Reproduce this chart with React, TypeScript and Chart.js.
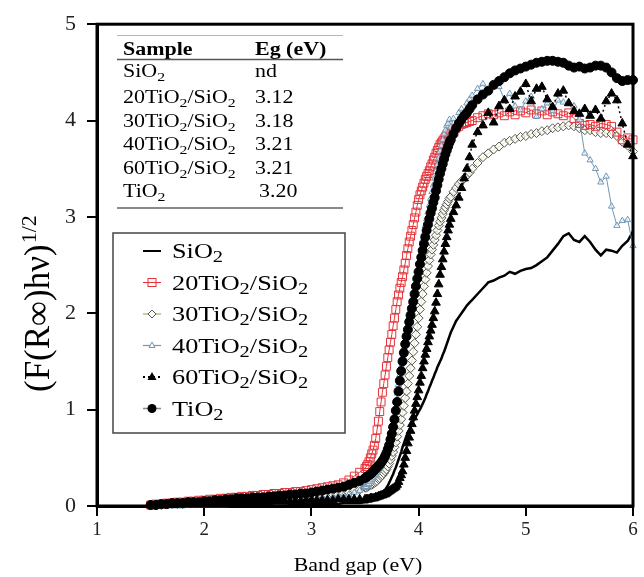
import React, { useEffect, useRef } from 'react';
import { Chart, registerables } from 'chart.js';

Chart.register(...registerables);

const SERIF = '"Liberation Serif", "Times New Roman", serif';

// Photon energy (eV)
const energy = [
  1.50, 1.55, 1.60, 1.65, 1.70, 1.75, 1.80, 1.85, 1.90, 1.95, 2.00, 2.05, 2.10, 2.15, 2.20, 2.25, 2.30, 2.35, 2.40, 2.45,
  2.50, 2.55, 2.60, 2.65, 2.70, 2.75, 2.80, 2.85, 2.90, 2.95, 3.00, 3.05, 3.10, 3.15, 3.20, 3.25, 3.30, 3.35, 3.40, 3.45,
  3.5, 3.5125, 3.525, 3.5375, 3.55, 3.5625, 3.575, 3.5875,
  3.6, 3.6125, 3.625, 3.6375, 3.65, 3.6625, 3.675, 3.6875,
  3.7, 3.7125, 3.725, 3.7375, 3.75, 3.7625, 3.775, 3.7875,
  3.8, 3.8125, 3.825, 3.8375, 3.85, 3.8625, 3.875, 3.8875,
  3.9, 3.9125, 3.925, 3.9375, 3.95, 3.9625, 3.975, 3.9875,
  4.0, 4.0125, 4.025, 4.0375, 4.05, 4.0625, 4.075, 4.0875,
  4.1, 4.1125, 4.125, 4.1375, 4.15, 4.1625, 4.175, 4.1875,
  4.2, 4.2125, 4.225, 4.2375, 4.25, 4.2625, 4.275, 4.2875,
  4.3, 4.325, 4.35, 4.375, 4.4, 4.425, 4.45, 4.475,
  4.5, 4.55, 4.6, 4.65, 4.7, 4.75, 4.8, 4.85, 4.9, 4.95, 5.0, 5.05, 5.1, 5.15, 5.2, 5.25, 5.3, 5.35, 5.4, 5.45,
  5.5, 5.55, 5.6, 5.65, 5.7, 5.75, 5.8, 5.85, 5.9, 5.95, 6.0,
];

const siO2 = [
  0.00, 0.00, 0.00, 0.00, 0.00, 0.00, 0.00, 0.00, 0.00, 0.00, 0.00, 0.00, 0.00, 0.00, 0.00, 0.00, 0.01, 0.01, 0.01, 0.01,
  0.01, 0.01, 0.01, 0.01, 0.01, 0.01, 0.01, 0.01, 0.02, 0.02, 0.02, 0.02, 0.02, 0.02, 0.02, 0.02, 0.03, 0.03, 0.03, 0.03,
  0.04, 0.04, 0.04, 0.05, 0.05, 0.05, 0.06, 0.06,
  0.07, 0.08, 0.09, 0.10, 0.12, 0.13, 0.15, 0.17,
  0.19, 0.21, 0.24, 0.27, 0.30, 0.33, 0.37, 0.40,
  0.44, 0.48, 0.52, 0.56, 0.61, 0.65, 0.69, 0.73,
  0.76, 0.79, 0.82, 0.85, 0.88, 0.90, 0.93, 0.95,
  0.98, 1.00, 1.03, 1.06, 1.09, 1.12, 1.16, 1.19,
  1.23, 1.26, 1.30, 1.33, 1.37, 1.40, 1.44, 1.47,
  1.50, 1.53, 1.57, 1.60, 1.64, 1.68, 1.72, 1.76,
  1.80, 1.86, 1.92, 1.96, 2.00, 2.04, 2.08, 2.11,
  2.14, 2.20, 2.26, 2.32, 2.34, 2.37, 2.39, 2.43, 2.41, 2.44, 2.46, 2.47, 2.50, 2.54, 2.58, 2.65, 2.72, 2.80, 2.83, 2.76,
  2.74, 2.80, 2.74, 2.66, 2.60, 2.66, 2.65, 2.63, 2.70, 2.75, 2.85,
];

const ti20 = [
  0.01, 0.02, 0.02, 0.03, 0.03, 0.04, 0.04, 0.05, 0.05, 0.06, 0.06, 0.07, 0.07, 0.08, 0.08, 0.09, 0.09, 0.10, 0.10, 0.11,
  0.11, 0.12, 0.12, 0.13, 0.13, 0.14, 0.14, 0.15, 0.15, 0.16, 0.17, 0.18, 0.19, 0.20, 0.21, 0.22, 0.24, 0.27, 0.31, 0.35,
  0.39, 0.41, 0.43, 0.46, 0.50, 0.54, 0.58, 0.63,
  0.70, 0.79, 0.88, 0.98, 1.08, 1.18, 1.27, 1.36,
  1.45, 1.54, 1.62, 1.70, 1.78, 1.87, 1.95, 2.04,
  2.12, 2.19, 2.26, 2.32, 2.38, 2.45, 2.52, 2.60,
  2.67, 2.74, 2.80, 2.86, 2.92, 2.99, 3.05, 3.12,
  3.18, 3.23, 3.27, 3.31, 3.35, 3.39, 3.42, 3.45,
  3.48, 3.52, 3.55, 3.59, 3.62, 3.66, 3.69, 3.72,
  3.75, 3.77, 3.79, 3.81, 3.83, 3.85, 3.86, 3.87,
  3.88, 3.90, 3.92, 3.94, 3.96, 3.97, 3.98, 3.99,
  4.00, 4.03, 4.05, 4.07, 4.06, 4.08, 4.05, 4.09, 4.06, 4.10, 4.08, 4.11, 4.07, 4.10, 4.06, 4.09, 4.07, 4.05, 4.08, 4.02,
  3.97, 3.95, 3.96, 3.94, 3.97, 3.96, 3.94, 3.88, 3.80, 3.82, 3.80,
];

const ti30 = [
  0.01, 0.01, 0.01, 0.02, 0.02, 0.02, 0.02, 0.03, 0.03, 0.03, 0.03, 0.04, 0.04, 0.04, 0.04, 0.05, 0.05, 0.05, 0.05, 0.06,
  0.06, 0.06, 0.07, 0.07, 0.07, 0.08, 0.08, 0.08, 0.09, 0.09, 0.10, 0.10, 0.11, 0.11, 0.12, 0.12, 0.13, 0.14, 0.16, 0.17,
  0.19, 0.19, 0.20, 0.21, 0.22, 0.22, 0.23, 0.24,
  0.25, 0.26, 0.28, 0.29, 0.31, 0.32, 0.34, 0.36,
  0.38, 0.41, 0.44, 0.48, 0.52, 0.56, 0.61, 0.66,
  0.72, 0.78, 0.84, 0.90, 0.97, 1.04, 1.12, 1.19,
  1.27, 1.35, 1.43, 1.51, 1.60, 1.69, 1.78, 1.86,
  1.95, 2.04, 2.12, 2.20, 2.28, 2.35, 2.42, 2.49,
  2.55, 2.61, 2.66, 2.71, 2.76, 2.81, 2.86, 2.91,
  2.95, 2.99, 3.03, 3.07, 3.10, 3.13, 3.16, 3.19,
  3.21, 3.26, 3.30, 3.34, 3.37, 3.40, 3.43, 3.46,
  3.50, 3.56, 3.62, 3.66, 3.70, 3.73, 3.77, 3.79, 3.81, 3.83, 3.84, 3.86, 3.87, 3.89, 3.90, 3.92, 3.93, 3.94, 3.95, 3.94,
  3.92, 3.90, 3.90, 3.88, 3.87, 3.87, 3.86, 3.84, 3.78, 3.74, 3.68,
];

const ti40 = [
  0.00, 0.00, 0.00, 0.00, 0.00, 0.00, 0.00, 0.01, 0.01, 0.01, 0.01, 0.01, 0.01, 0.01, 0.01, 0.02, 0.02, 0.02, 0.02, 0.03,
  0.03, 0.03, 0.03, 0.04, 0.04, 0.04, 0.05, 0.05, 0.06, 0.06, 0.07, 0.07, 0.08, 0.08, 0.09, 0.10, 0.11, 0.12, 0.14, 0.16,
  0.19, 0.20, 0.22, 0.23, 0.25, 0.27, 0.29, 0.31,
  0.33, 0.35, 0.38, 0.40, 0.43, 0.46, 0.50, 0.54,
  0.58, 0.63, 0.69, 0.76, 0.83, 0.91, 0.99, 1.08,
  1.17, 1.26, 1.36, 1.45, 1.55, 1.64, 1.72, 1.80,
  1.88, 1.96, 2.04, 2.12, 2.20, 2.28, 2.36, 2.44,
  2.52, 2.60, 2.68, 2.76, 2.83, 2.91, 2.98, 3.05,
  3.12, 3.19, 3.26, 3.33, 3.40, 3.47, 3.54, 3.61,
  3.68, 3.74, 3.80, 3.86, 3.90, 3.95, 3.97, 4.01,
  3.93, 4.02, 3.96, 4.08, 4.12, 4.05, 4.18, 4.22,
  4.26, 4.33, 4.38, 4.30, 4.36, 4.35, 4.22, 4.28, 4.15, 4.11, 4.20, 4.25, 4.04, 4.12, 4.18, 4.10, 4.21, 4.19, 4.18, 4.15,
  4.01, 3.66, 3.59, 3.50, 3.36, 3.42, 3.11, 2.91, 2.96, 2.97, 2.70,
];

const ti60 = [
  0.01, 0.01, 0.01, 0.01, 0.01, 0.02, 0.02, 0.02, 0.02, 0.02, 0.02, 0.03, 0.03, 0.03, 0.03, 0.03, 0.03, 0.04, 0.04, 0.04,
  0.04, 0.04, 0.04, 0.05, 0.05, 0.05, 0.05, 0.05, 0.05, 0.06, 0.06, 0.06, 0.06, 0.06, 0.06, 0.07, 0.07, 0.07, 0.07, 0.07,
  0.07, 0.07, 0.07, 0.07, 0.08, 0.08, 0.08, 0.08,
  0.09, 0.09, 0.10, 0.10, 0.11, 0.11, 0.12, 0.12,
  0.13, 0.14, 0.15, 0.16, 0.17, 0.18, 0.19, 0.20,
  0.22, 0.25, 0.29, 0.32, 0.36, 0.43, 0.50, 0.57,
  0.65, 0.71, 0.78, 0.85, 0.92, 0.99, 1.06, 1.13,
  1.20, 1.28, 1.35, 1.43, 1.50, 1.57, 1.63, 1.70,
  1.76, 1.82, 1.88, 1.95, 2.02, 2.11, 2.20, 2.30,
  2.40, 2.48, 2.56, 2.64, 2.72, 2.79, 2.86, 2.92,
  2.98, 3.05, 3.12, 3.20, 3.30, 3.40, 3.50, 3.62,
  3.75, 3.88, 3.95, 4.08, 3.98, 4.15, 4.21, 4.12, 4.25, 4.30, 4.38, 4.20, 4.33, 4.35, 4.22, 4.14, 4.28, 4.31, 4.18, 4.10,
  4.07, 4.12, 4.05, 4.11, 4.02, 4.20, 4.28, 4.21, 3.97, 3.75, 3.63,
];

const tiO2 = [
  0.01, 0.01, 0.02, 0.02, 0.03, 0.03, 0.03, 0.04, 0.04, 0.04, 0.05, 0.05, 0.06, 0.06, 0.07, 0.07, 0.08, 0.08, 0.08, 0.09,
  0.09, 0.09, 0.10, 0.10, 0.11, 0.11, 0.12, 0.12, 0.13, 0.13, 0.14, 0.15, 0.16, 0.17, 0.18, 0.19, 0.20, 0.22, 0.24, 0.26,
  0.29, 0.30, 0.31, 0.32, 0.33, 0.34, 0.36, 0.37,
  0.39, 0.40, 0.42, 0.43, 0.45, 0.47, 0.49, 0.52,
  0.55, 0.59, 0.63, 0.69, 0.75, 0.82, 0.90, 0.99,
  1.08, 1.19, 1.30, 1.40, 1.50, 1.59, 1.68, 1.76,
  1.83, 1.91, 1.98, 2.05, 2.12, 2.20, 2.28, 2.36,
  2.43, 2.51, 2.58, 2.65, 2.72, 2.79, 2.86, 2.92,
  2.98, 3.04, 3.09, 3.15, 3.20, 3.27, 3.33, 3.39,
  3.45, 3.50, 3.55, 3.60, 3.65, 3.69, 3.73, 3.77,
  3.80, 3.86, 3.92, 3.97, 4.01, 4.05, 4.08, 4.12,
  4.16, 4.22, 4.27, 4.31, 4.37, 4.41, 4.45, 4.49, 4.52, 4.54, 4.56, 4.58, 4.60, 4.61, 4.62, 4.62, 4.61, 4.60, 4.57, 4.55,
  4.56, 4.54, 4.55, 4.57, 4.57, 4.55, 4.50, 4.44, 4.41, 4.42, 4.42,
];

const sampleNames = ['SiO2', '20TiO2/SiO2', '30TiO2/SiO2', '40TiO2/SiO2', '60TiO2/SiO2', 'TiO2'];
const bandGaps = ['nd', '3.12', '3.18', '3.21', '3.21', '3.20'];
const tableHeader = ['Sample', 'Eg (eV)'];
const xTitle = 'Band gap (eV)';
const yTitle = '(F(R\u221E)h\u03BD)';
const yTitleSup = '1/2';

const RED = '#e5343a';
const OLIVE = '#a9a862';
const BLUE = '#7196b5';
const GRAY_LINE = '#8a8a8a';

type Part = [string, boolean];

function splitChem(s: string): Part[] {
  const parts: Part[] = [];
  let cur = '';
  for (let i = 0; i < s.length; i++) {
    const c = s[i];
    if (c === '2' && i > 0 && s[i - 1] === 'O') {
      if (cur) parts.push([cur, false]);
      parts.push(['2', true]);
      cur = '';
    } else cur += c;
  }
  if (cur) parts.push([cur, false]);
  return parts;
}

function richWidth(ctx: CanvasRenderingContext2D, parts: Part[], size: number, weight: string, subScale: number) {
  let w = 0;
  for (const [t, sub] of parts) {
    ctx.font = `${weight} ${sub ? size * subScale : size}px ${SERIF}`;
    w += ctx.measureText(t).width;
  }
  return w;
}

function drawRich(
  ctx: CanvasRenderingContext2D,
  x: number,
  y: number,
  parts: Part[],
  size: number,
  weight: string,
  stretch: number,
  subScale = 0.7,
) {
  ctx.save();
  ctx.translate(x, y);
  ctx.scale(stretch, 1);
  ctx.fillStyle = '#000';
  ctx.textBaseline = 'alphabetic';
  ctx.textAlign = 'left';
  let cx = 0;
  for (const [t, sub] of parts) {
    const fs = sub ? size * subScale : size;
    ctx.font = `${weight} ${fs}px ${SERIF}`;
    ctx.fillText(t, cx, sub ? size * 0.2 : 0);
    cx += ctx.measureText(t).width;
  }
  ctx.restore();
}

function hline(ctx: CanvasRenderingContext2D, x1: number, x2: number, y: number, color: string, lw: number, dash: number[] = []) {
  ctx.save();
  ctx.strokeStyle = color;
  ctx.lineWidth = lw;
  ctx.setLineDash(dash);
  ctx.beginPath();
  ctx.moveTo(x1, y);
  ctx.lineTo(x2, y);
  ctx.stroke();
  ctx.restore();
}

function legendMarker(ctx: CanvasRenderingContext2D, idx: number, cx: number, cy: number) {
  ctx.save();
  const x1 = cx - 9;
  const x2 = cx + 9;
  if (idx === 0) {
    hline(ctx, x1, x2, cy, '#000', 2);
  } else if (idx === 1) {
    hline(ctx, x1, x2, cy, RED, 1);
    ctx.strokeStyle = RED;
    ctx.lineWidth = 1;
    ctx.strokeRect(cx - 4, cy - 4, 8, 8);
  } else if (idx === 2) {
    hline(ctx, x1, x2, cy, OLIVE, 1.2);
    ctx.fillStyle = '#fff';
    ctx.strokeStyle = '#555';
    ctx.lineWidth = 1;
    ctx.beginPath();
    ctx.moveTo(cx, cy - 4);
    ctx.lineTo(cx + 4, cy);
    ctx.lineTo(cx, cy + 4);
    ctx.lineTo(cx - 4, cy);
    ctx.closePath();
    ctx.fill();
    ctx.stroke();
  } else if (idx === 3) {
    hline(ctx, x1, x2, cy, BLUE, 1.2);
    ctx.fillStyle = '#fff';
    ctx.strokeStyle = BLUE;
    ctx.lineWidth = 1;
    ctx.beginPath();
    ctx.moveTo(cx, cy - 3.5);
    ctx.lineTo(cx + 3, cy + 2);
    ctx.lineTo(cx - 3, cy + 2);
    ctx.closePath();
    ctx.fill();
    ctx.stroke();
  } else if (idx === 4) {
    hline(ctx, x1, x2, cy, '#000', 1.8, [2, 3]);
    ctx.fillStyle = '#000';
    ctx.beginPath();
    ctx.moveTo(cx, cy - 5);
    ctx.lineTo(cx + 4.5, cy + 3);
    ctx.lineTo(cx - 4.5, cy + 3);
    ctx.closePath();
    ctx.fill();
  } else {
    hline(ctx, x1, x2, cy, GRAY_LINE, 1.5);
    ctx.fillStyle = '#000';
    ctx.beginPath();
    ctx.arc(cx, cy, 4.5, 0, Math.PI * 2);
    ctx.fill();
  }
  ctx.restore();
}

const overlay = {
  id: 'overlay',
  afterDraw(chart: any) {
    const ctx: CanvasRenderingContext2D = chart.ctx;
    const a = chart.chartArea;
    ctx.save();

    // plot frame
    ctx.strokeStyle = '#000';
    ctx.lineWidth = 3;
    ctx.strokeRect(a.left, a.top, a.right - a.left, a.bottom - a.top);

    // ---- inset table ----
    const tStretch = 1.22;
    hline(ctx, 117, 343, 35.5, '#b5b5b5', 1);
    drawRich(ctx, 123, 55, [[tableHeader[0], false]], 18, 'bold', tStretch);
    drawRich(ctx, 255, 55, [[tableHeader[1], false]], 18, 'bold', tStretch);
    hline(ctx, 117, 343, 59.5, '#555', 1.5);
    const rowBase = [77, 103, 127, 150, 174, 197];
    sampleNames.forEach((n, i) => {
      drawRich(ctx, 123, rowBase[i], splitChem(n), 18, 'normal', tStretch, 0.72);
      drawRich(ctx, i === 5 ? 259 : 255, rowBase[i], [[bandGaps[i], false]], 18, 'normal', tStretch);
    });
    hline(ctx, 117, 343, 208, '#8a8a8a', 2);

    // ---- legend box ----
    ctx.fillStyle = '#fff';
    ctx.fillRect(113, 233, 232, 200);
    ctx.strokeStyle = '#444';
    ctx.lineWidth = 1.5;
    ctx.strokeRect(113, 233, 232, 200);
    const legBase = [258, 289.5, 321, 352.5, 384, 415.5];
    sampleNames.forEach((n, i) => {
      legendMarker(ctx, i, 152, legBase[i] - 7);
      drawRich(ctx, 172, legBase[i], splitChem(n), 21, 'normal', 1.25, 0.78);
    });

    // ---- x title ----
    const xParts: Part[] = [[xTitle, false]];
    const xs = 1.15;
    const xw = richWidth(ctx, xParts, 19, 'normal', 1) * xs;
    drawRich(ctx, 358 - xw / 2, 571, xParts, 19, 'normal', xs);

    // ---- y title (rotated) ----
    ctx.save();
    ctx.translate(49, 392);
    ctx.rotate(-Math.PI / 2);
    ctx.fillStyle = '#000';
    ctx.textBaseline = 'alphabetic';
    ctx.textAlign = 'left';
    ctx.font = `35px ${SERIF}`;
    ctx.fillText(yTitle, 0, 0);
    const yw = ctx.measureText(yTitle).width;
    ctx.font = `22px ${SERIF}`;
    ctx.fillText(yTitleSup, yw + 1, -13);
    ctx.restore();

    ctx.restore();
  },
};

export default function App() {
  const ref = useRef<HTMLCanvasElement>(null);

  useEffect(() => {
    const canvas = ref.current;
    if (!canvas) return;
    const mk = (ys: number[]) => energy.map((x, i) => ({ x, y: ys[i] }));
    const chart = new Chart(canvas, {
      type: 'line',
      data: {
        datasets: [
          {
            label: sampleNames[0],
            data: mk(siO2),
            borderColor: '#000',
            borderWidth: 2.5,
            pointRadius: 0,
            order: 5,
            clip: false,
          },
          {
            label: sampleNames[1],
            data: mk(ti20),
            borderColor: RED,
            borderWidth: 1,
            pointStyle: 'rect',
            pointRadius: 5.6,
            pointBorderColor: RED,
            pointBackgroundColor: 'rgba(255,255,255,0)',
            pointBorderWidth: 1,
            order: 3,
            clip: false,
          },
          {
            label: sampleNames[2],
            data: mk(ti30),
            borderColor: OLIVE,
            borderWidth: 1,
            pointStyle: 'rectRot',
            pointRadius: 4.5,
            pointBorderColor: '#555',
            pointBackgroundColor: 'rgba(255,255,245,0.7)',
            pointBorderWidth: 1,
            order: 4,
            clip: false,
          },
          {
            label: sampleNames[3],
            data: mk(ti40),
            borderColor: BLUE,
            borderWidth: 1,
            pointStyle: 'triangle',
            pointRadius: 3.6,
            pointBorderColor: BLUE,
            pointBackgroundColor: 'rgba(255,255,255,0.6)',
            pointBorderWidth: 1,
            order: 2,
            clip: false,
          },
          {
            label: sampleNames[4],
            data: mk(ti60),
            borderColor: '#000',
            borderWidth: 1.5,
            borderDash: [2, 3],
            pointStyle: 'triangle',
            pointRadius: 5,
            pointBorderColor: '#000',
            pointBackgroundColor: '#000',
            pointBorderWidth: 1,
            order: 1,
            clip: false,
          },
          {
            label: sampleNames[5],
            data: mk(tiO2),
            borderColor: GRAY_LINE,
            borderWidth: 1.2,
            pointStyle: 'circle',
            pointRadius: 4.5,
            pointBorderColor: '#000',
            pointBackgroundColor: '#000',
            pointBorderWidth: 1,
            order: 0,
            clip: false,
          },
        ],
      },
      options: {
        responsive: false,
        animation: false,
        devicePixelRatio: 1,
        events: [],
        layout: { padding: { top: 20, right: 11, left: 0, bottom: 0 } },
        plugins: {
          legend: { display: false },
          title: { display: false },
          tooltip: { enabled: false },
        },
        scales: {
          x: {
            type: 'linear',
            min: 1,
            max: 6,
            ticks: {
              stepSize: 1,
              color: '#222',
              font: { family: SERIF, size: 19 },
              padding: 3,
            },
            grid: { drawOnChartArea: false, drawTicks: true, tickLength: 10, color: '#000', lineWidth: 2 },
            border: { display: true, color: '#000', width: 3 },
            afterFit: (s: any) => {
              s.height = 71;
            },
          },
          y: {
            type: 'linear',
            min: 0,
            max: 5,
            ticks: {
              stepSize: 1,
              color: '#222',
              font: { family: SERIF, size: 22 },
              padding: 11,
            },
            grid: { drawOnChartArea: false, drawTicks: true, tickLength: 10, color: '#000', lineWidth: 2 },
            border: { display: true, color: '#000', width: 3 },
            afterFit: (s: any) => {
              s.width = 97;
            },
          },
        },
      } as any,
      plugins: [overlay],
    });
    return () => chart.destroy();
  }, []);

  return (
    <div style={{ position: 'fixed', left: 0, top: 0, width: 644, height: 577, background: '#fff' }}>
      <canvas ref={ref} width={644} height={577} style={{ display: 'block', width: 644, height: 577 }} />
    </div>
  );
}
